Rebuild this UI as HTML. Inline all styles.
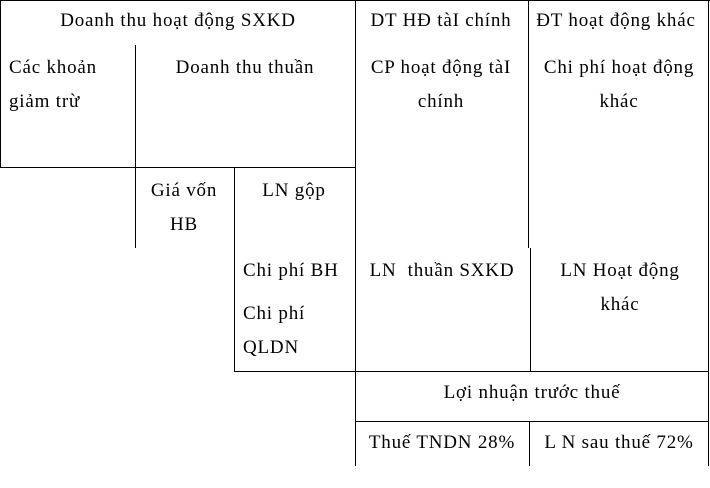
<!DOCTYPE html>
<html><head><meta charset="utf-8"><style>
body{margin:0;width:710px;height:488px;background:#fff;position:relative;overflow:hidden;font-family:"Liberation Serif",serif;font-size:19px;letter-spacing:0.8px;color:#000}
.h,.v{position:absolute;background:#000}
.h{height:1px}.v{width:1px}
.t{position:absolute;white-space:pre;line-height:20px}
.c{transform:translateX(-50%)}
</style></head><body>
<div class="h" style="left:0;top:0;width:710px"></div>
<div class="v" style="left:0;top:0;height:168px"></div>
<div class="h" style="left:0;top:167px;width:356px"></div>
<div class="v" style="left:135px;top:45px;height:203px"></div>
<div class="v" style="left:234px;top:168px;height:204px"></div>
<div class="v" style="left:355px;top:0;height:466px"></div>
<div class="v" style="left:528px;top:0;height:248px"></div>
<div class="v" style="left:530px;top:248px;height:124px"></div>
<div class="v" style="left:708px;top:0;height:466px"></div>
<div class="h" style="left:234px;top:371px;width:475px"></div>
<div class="h" style="left:355px;top:421px;width:354px"></div>
<div class="v" style="left:529px;top:421px;height:45px"></div>

<div class="t c" style="left:178px;top:11px">Doanh thu hoạt động SXKD</div>
<div class="t" style="left:9px;top:58px">Các khoản</div>
<div class="t" style="left:9px;top:92px">giảm trừ</div>
<div class="t c" style="left:245px;top:58px">Doanh thu thuần</div>
<div class="t c" style="left:441px;top:11px">DT HĐ tàI chính</div>
<div class="t c" style="left:616px;top:11px">ĐT hoạt động khác</div>
<div class="t c" style="left:441px;top:58px">CP hoạt động tàI</div>
<div class="t c" style="left:441px;top:92px">chính</div>
<div class="t c" style="left:619px;top:58px">Chi phí hoạt động</div>
<div class="t c" style="left:619px;top:92px">khác</div>
<div class="t c" style="left:184px;top:181px">Giá vốn</div>
<div class="t c" style="left:184px;top:215px">HB</div>
<div class="t c" style="left:294px;top:181px">LN gộp</div>
<div class="t" style="left:243px;top:261px">Chi phí BH</div>
<div class="t" style="left:243px;top:304px">Chi phí</div>
<div class="t" style="left:243px;top:338px">QLDN</div>
<div class="t c" style="left:442px;top:261px">LN  thuần SXKD</div>
<div class="t c" style="left:620px;top:261px">LN Hoạt động</div>
<div class="t c" style="left:620px;top:295px">khác</div>
<div class="t c" style="left:532px;top:383px">Lợi nhuận trước thuế</div>
<div class="t c" style="left:442px;top:433px">Thuế TNDN 28%</div>
<div class="t c" style="left:619px;top:433px">L N sau thuế 72%</div>
</body></html>
